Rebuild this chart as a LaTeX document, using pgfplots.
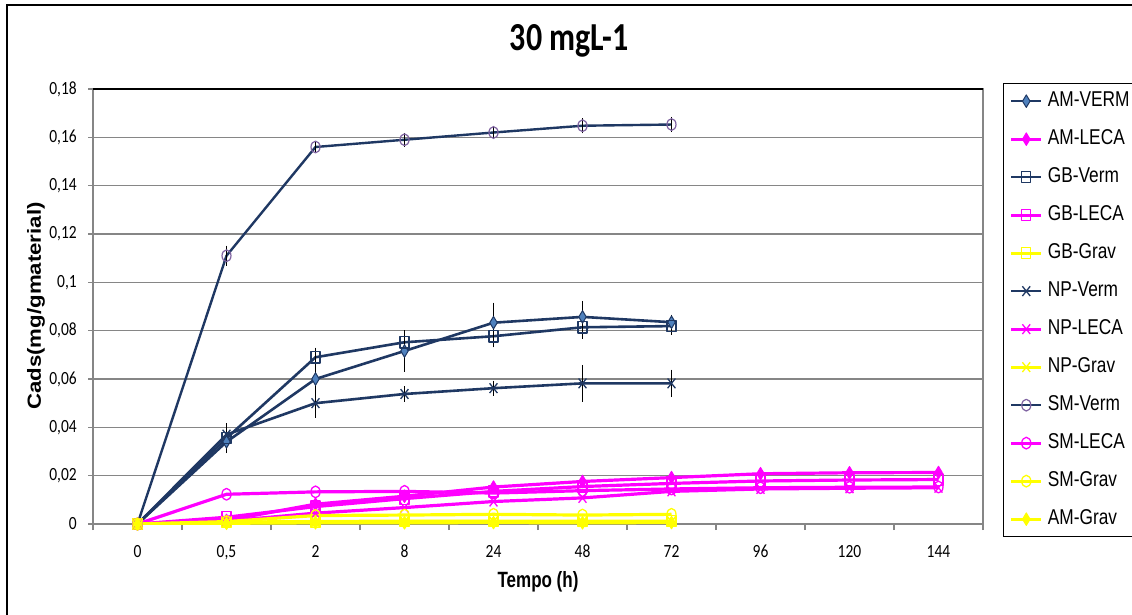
\documentclass[border=0pt]{standalone}
\usepackage{pgfplots}
\pgfplotsset{compat=1.18}
\usepackage{fontspec}
\usepackage{graphicx}
\setmainfont{Liberation Sans}
\newfontfamily\carlito{Carlito}
\definecolor{navy}{RGB}{31,56,99}
\definecolor{dblue}{RGB}{79,129,189}
\definecolor{smpurple}{RGB}{128,100,162}
\definecolor{mag}{RGB}{255,0,255}
\definecolor{yel}{RGB}{255,255,0}
\definecolor{gridgray}{RGB}{134,134,134}
\newcommand{\sy}[2][1.2]{\scalebox{1}[#1]{#2}}
\begin{document}
\begin{tikzpicture}
\path[use as bounding box] (0pt,0pt) rectangle (1132pt,614pt);
\fill[white] (0pt,0pt) rectangle (1132pt,614pt);
\draw[black,line width=1.5pt] (7pt,-10pt) -- (7pt,609pt) -- (1150pt,609pt);
\begin{axis}[
  at={(93pt,90pt)}, anchor=south west, scale only axis,
  width=890pt, height=435pt,
  xmin=-0.5, xmax=9.5, ymin=0, ymax=0.18,
  xtick={0,1,2,3,4,5,6,7,8,9},
  xticklabels={\sy{0},{\sy{0,5}},\sy{2},\sy{8},\sy{24},\sy{48},\sy{72},\sy{96},\sy{120},\sy{144}},
  minor xtick={-0.5,0.5,1.5,2.5,3.5,4.5,5.5,6.5,7.5,8.5,9.5},
  ytick={0,0.02,0.04,0.06,0.08,0.1,0.12,0.14,0.16,0.18},
  yticklabels={\sy{0},{\sy{0,02}},{\sy{0,04}},{\sy{0,06}},{\sy{0,08}},{\sy{0,1}},{\sy{0,12}},{\sy{0,14}},{\sy{0,16}},{\sy{0,18}}},
  tick pos=left, tick align=outside,
  major tick length=5pt, minor tick length=6pt,
  major x tick style={draw=none},
  tick style={gridgray, line width=1.3pt},
  ymajorgrids, grid style={gridgray, line width=1.3pt},
  axis line style={gridgray, line width=1.3pt},
  /pgf/number format/assume math mode=true,
  tick label style={font=\carlito\fontsize{15.5}{15.5}\selectfont, inner sep=0pt},
  yticklabel style={anchor=east},
  yticklabel shift=11pt,
  xticklabel shift=16pt,
  title={\sy[1.24]{30 mgL-1}},
  title style={at={(axis description cs:0.535,1.0966)}, anchor=center, font=\carlito\bfseries\fontsize{32}{32}\selectfont},
  xlabel={\sy[1.3]{Tempo (h)}},
  xlabel style={at={(axis description cs:0.5,-0.1333)}, anchor=center, font=\bfseries\fontsize{17}{17}\selectfont},
  ylabel={\scalebox{1.17}[1]{Cads(mg/gmaterial)}},
  ylabel style={at={(axis description cs:-0.064,0.501)}, anchor=center, font=\bfseries\fontsize{19}{19}\selectfont},
  legend style={at={(1.0225,1.0138)}, anchor=north west, draw=black, line width=1.3pt, fill=white,
    inner xsep=6pt, inner ysep=7pt, row sep=17pt, font=\fontsize{17.3}{17.3}\selectfont,
    nodes={inner sep=0pt, text height=16pt, text depth=5pt, anchor=west},
    /tikz/every odd column/.append style={column sep=5pt}},
  legend cell align=left,
  legend image code/.code={\draw[mark repeat=2,mark phase=2] plot coordinates {(0pt,0pt) (15pt,0pt) (30pt,0pt)};},
  every axis plot/.append style={line join=round},
  eb/.style={error bars/.cd, y dir=both, y explicit, error mark=-,
    error bar style={black, line width=1.2pt, solid},
    error mark options={black, mark size=4pt, line width=1.2pt, solid}},
]
% AM-VERM
\addplot[navy, line width=2.6pt, mark=diamond*, mark size=5pt,
  mark options={fill=dblue, draw=navy, line width=1pt, yscale=1.25}, eb]
coordinates {(0,0) +- (0,0) (1,0.034) +- (0,0.002) (2,0.060) +- (0,0.0055) (3,0.0716) +- (0,0.007)
  (4,0.0833) +- (0,0.0066) (5,0.0857) +- (0,0.005) (6,0.0835) +- (0,0.0015)};
% AM-LECA
\addplot[mag, line width=3.2pt, mark=diamond*, mark size=5pt,
  mark options={fill=mag, draw=mag, line width=1pt, yscale=1.25}]
coordinates {(0,0) (1,0.0015) (2,0.0082) (3,0.0115) (4,0.0153) (5,0.0176) (6,0.0192) (7,0.0208) (8,0.0212) (9,0.0213)};
% GB-Verm
\addplot[navy, line width=2.6pt, mark=square, mark size=4.5pt,
  mark options={draw=navy, line width=1.3pt, yscale=1.25}, eb]
coordinates {(0,0) +- (0,0) (1,0.0355) +- (0,0.0045) (2,0.069) +- (0,0.0023) (3,0.0752) +- (0,0.003)
  (4,0.0777) +- (0,0.003) (5,0.0814) +- (0,0.003) (6,0.0819) +- (0,0.002)};
% GB-LECA
\addplot[mag, line width=3.2pt, mark=square, mark size=4.5pt,
  mark options={draw=mag, line width=1.3pt, yscale=1.25}]
coordinates {(0,0) (1,0.0028) (2,0.0072) (3,0.0105) (4,0.0135) (5,0.0155) (6,0.0168) (7,0.0178) (8,0.0182) (9,0.0184)};
% GB-Grav
\addplot[yel, line width=3.2pt, mark=square, mark size=4.5pt,
  mark options={draw=yel, line width=1.3pt, yscale=1.25}]
coordinates {(0,0) (1,0.0008) (2,0.001) (3,0.0012) (4,0.0012) (5,0.0012) (6,0.0012)};
% NP-Verm
\addplot[navy, line width=2.6pt, mark=x, mark size=5.5pt,
  mark options={draw=navy, line width=1.3pt, yscale=1.25}, eb]
coordinates {(0,0) +- (0,0) (1,0.037) +- (0,0.002) (2,0.050) +- (0,0.0043) (3,0.0538) +- (0,0.0015)
  (4,0.0562) +- (0,0.0015) (5,0.0582) +- (0,0.006) (6,0.0582) +- (0,0.004)};
% NP-LECA
\addplot[mag, line width=3.2pt, mark=x, mark size=5.5pt,
  mark options={draw=mag, line width=1.3pt, yscale=1.25}]
coordinates {(0,0) (1,0.0012) (2,0.0045) (3,0.0068) (4,0.0093) (5,0.0108) (6,0.0135) (7,0.0145) (8,0.0148) (9,0.015)};
% NP-Grav
\addplot[yel, line width=3.2pt, mark=x, mark size=5.5pt,
  mark options={draw=yel, line width=1.3pt, yscale=1.25}]
coordinates {(0,0) (1,0.0005) (2,0.0008) (3,0.001) (4,0.001) (5,0.0008) (6,0.001)};
% SM-Verm
\addplot[navy, line width=2.4pt, mark=o, mark size=4.5pt,
  mark options={draw=smpurple, line width=1.2pt, yscale=1.3}, eb]
coordinates {(0,0) +- (0,0) (1,0.111) +- (0,0.0025) (2,0.156) +- (0,0.0008) (3,0.159) +- (0,0.0012)
  (4,0.162) +- (0,0.0012) (5,0.1648) +- (0,0.0015) (6,0.1653) +- (0,0.0015)};
% SM-LECA
\addplot[mag, line width=3.2pt, mark=o, mark size=4.5pt,
  mark options={draw=mag, line width=1.3pt, yscale=1.3}]
coordinates {(0,0) (1,0.0123) (2,0.0133) (3,0.0135) (4,0.0128) (5,0.0138) (6,0.0145) (7,0.015) (8,0.0152) (9,0.0153)};
% SM-Grav
\addplot[yel, line width=3.2pt, mark=o, mark size=4.5pt,
  mark options={draw=yel, line width=1.3pt, yscale=1.3}]
coordinates {(0,0) (1,0.001) (2,0.0035) (3,0.0037) (4,0.004) (5,0.0037) (6,0.004)};
% AM-Grav
\addplot[yel, line width=3.2pt, mark=diamond*, mark size=5pt,
  mark options={fill=yel, draw=yel, line width=1pt, yscale=1.25}]
coordinates {(0,0) (1,0.0003) (2,0.0005) (3,0.0005) (4,0.0006) (5,0.0005) (6,0.0006)};
\legend{\sy[1.24]{AM-VERM},\sy[1.24]{AM-LECA},\sy[1.24]{GB-Verm},\sy[1.24]{GB-LECA},\sy[1.24]{GB-Grav},\sy[1.24]{NP-Verm},\sy[1.24]{NP-LECA},\sy[1.24]{NP-Grav},\sy[1.24]{SM-Verm},\sy[1.24]{SM-LECA},\sy[1.24]{SM-Grav},\sy[1.24]{AM-Grav}}
\draw[black, line width=1.5pt] (rel axis cs:0,1) -- (rel axis cs:1,1);
\end{axis}
\end{tikzpicture}
\end{document}
